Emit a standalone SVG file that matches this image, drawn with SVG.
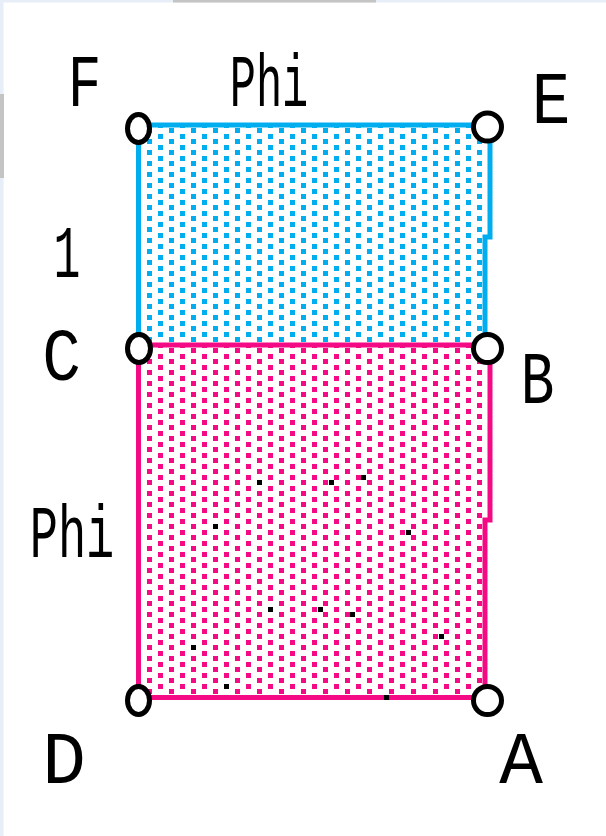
<svg xmlns="http://www.w3.org/2000/svg" width="606" height="836" viewBox="0 0 606 836">
<style>
.lbl{font-family:'Liberation Mono','DejaVu Sans Mono',monospace;font-size:56px;fill:#000;text-anchor:middle}
.pt{fill:#fff;stroke:#000;stroke-width:5}
.blk{fill:#000}
</style>
<defs>
<pattern id="dotsB" patternUnits="userSpaceOnUse" x="147" y="7" width="22" height="11">
<rect x="0" y="0" width="5" height="5" fill="#00aeef"/>
<rect x="11" y="6" width="5" height="5" fill="#00aeef"/>
</pattern>
<pattern id="dotsP" patternUnits="userSpaceOnUse" x="147" y="7" width="22" height="11">
<rect x="0" y="0" width="5" height="5" fill="#f50a85"/>
<rect x="11" y="6" width="5" height="5" fill="#f50a85"/>
</pattern>
</defs>
<rect width="606" height="836" fill="#fff"/>
<rect x="0" y="0" width="606" height="2.5" fill="#e8eef8"/>
<rect x="0" y="0" width="3.5" height="836" fill="#e8eef8"/>
<rect x="173" y="0" width="203" height="2.5" fill="#c4c4c4"/>
<rect x="0" y="94" width="4" height="84" fill="#c4c4c4"/>

<g id="rect-blue">
<rect x="138" y="125" width="350" height="220" fill="url(#dotsB)"/>
<path d="M138.5,345 V125 H490 V237 H485 V345" fill="none" stroke="#00aeef" stroke-width="5"/>
</g>
<g id="rect-pink">
<rect x="138" y="345" width="350" height="352" fill="url(#dotsP)"/>
<path d="M138.5,345 V697.5 H485 V520 H490 V345 H138.5" fill="none" stroke="#f50a85" stroke-width="5"/>
<g class="blk">
<rect x="257" y="480" width="5" height="5"/>
<rect x="329" y="480" width="5" height="5"/>
<rect x="361" y="475" width="5" height="5"/>
<rect x="213" y="524" width="5" height="5"/>
<rect x="406" y="530" width="5" height="5"/>
<rect x="268" y="607" width="5" height="5"/>
<rect x="318" y="607" width="5" height="5"/>
<rect x="350" y="612" width="5" height="5"/>
<rect x="439" y="634" width="5" height="5"/>
<rect x="191" y="645" width="5" height="5"/>
<rect x="224" y="684" width="5" height="5"/>
<rect x="384" y="695" width="5" height="5"/>
</g>
</g>

<g id="node-F"><ellipse class="pt" cx="138.5" cy="128.5" rx="11" ry="14"/></g>
<g id="node-E"><circle class="pt" cx="487.5" cy="127" r="14"/></g>
<g id="node-C"><ellipse class="pt" cx="139" cy="348.5" rx="11.5" ry="14"/></g>
<g id="node-B"><circle class="pt" cx="487.5" cy="348.5" r="14"/></g>
<g id="node-D"><ellipse class="pt" cx="138.5" cy="700.5" rx="11" ry="14"/></g>
<g id="node-A"><circle class="pt" cx="487.5" cy="700.5" r="14"/></g>

<g id="labels">
<text class="lbl" transform="translate(84.5,106) scale(1,1.32)">F</text>
<text class="lbl" transform="translate(269,106) scale(0.78,1.32)">Phi</text>
<text class="lbl" transform="translate(551,123) scale(1.15,1.32)">E</text>
<text class="lbl" transform="translate(67,277) scale(0.8,1.32)">1</text>
<text class="lbl" transform="translate(61.5,380) scale(1.15,1.32)">C</text>
<text class="lbl" transform="translate(537.5,403) scale(1,1.32)">B</text>
<text class="lbl" transform="translate(72,557) scale(0.84,1.32)">Phi</text>
<text class="lbl" transform="translate(64,783) scale(1.3,1.32)">D</text>
<text class="lbl" transform="translate(521,783) scale(1.3,1.32)">A</text>
</g>
</svg>
